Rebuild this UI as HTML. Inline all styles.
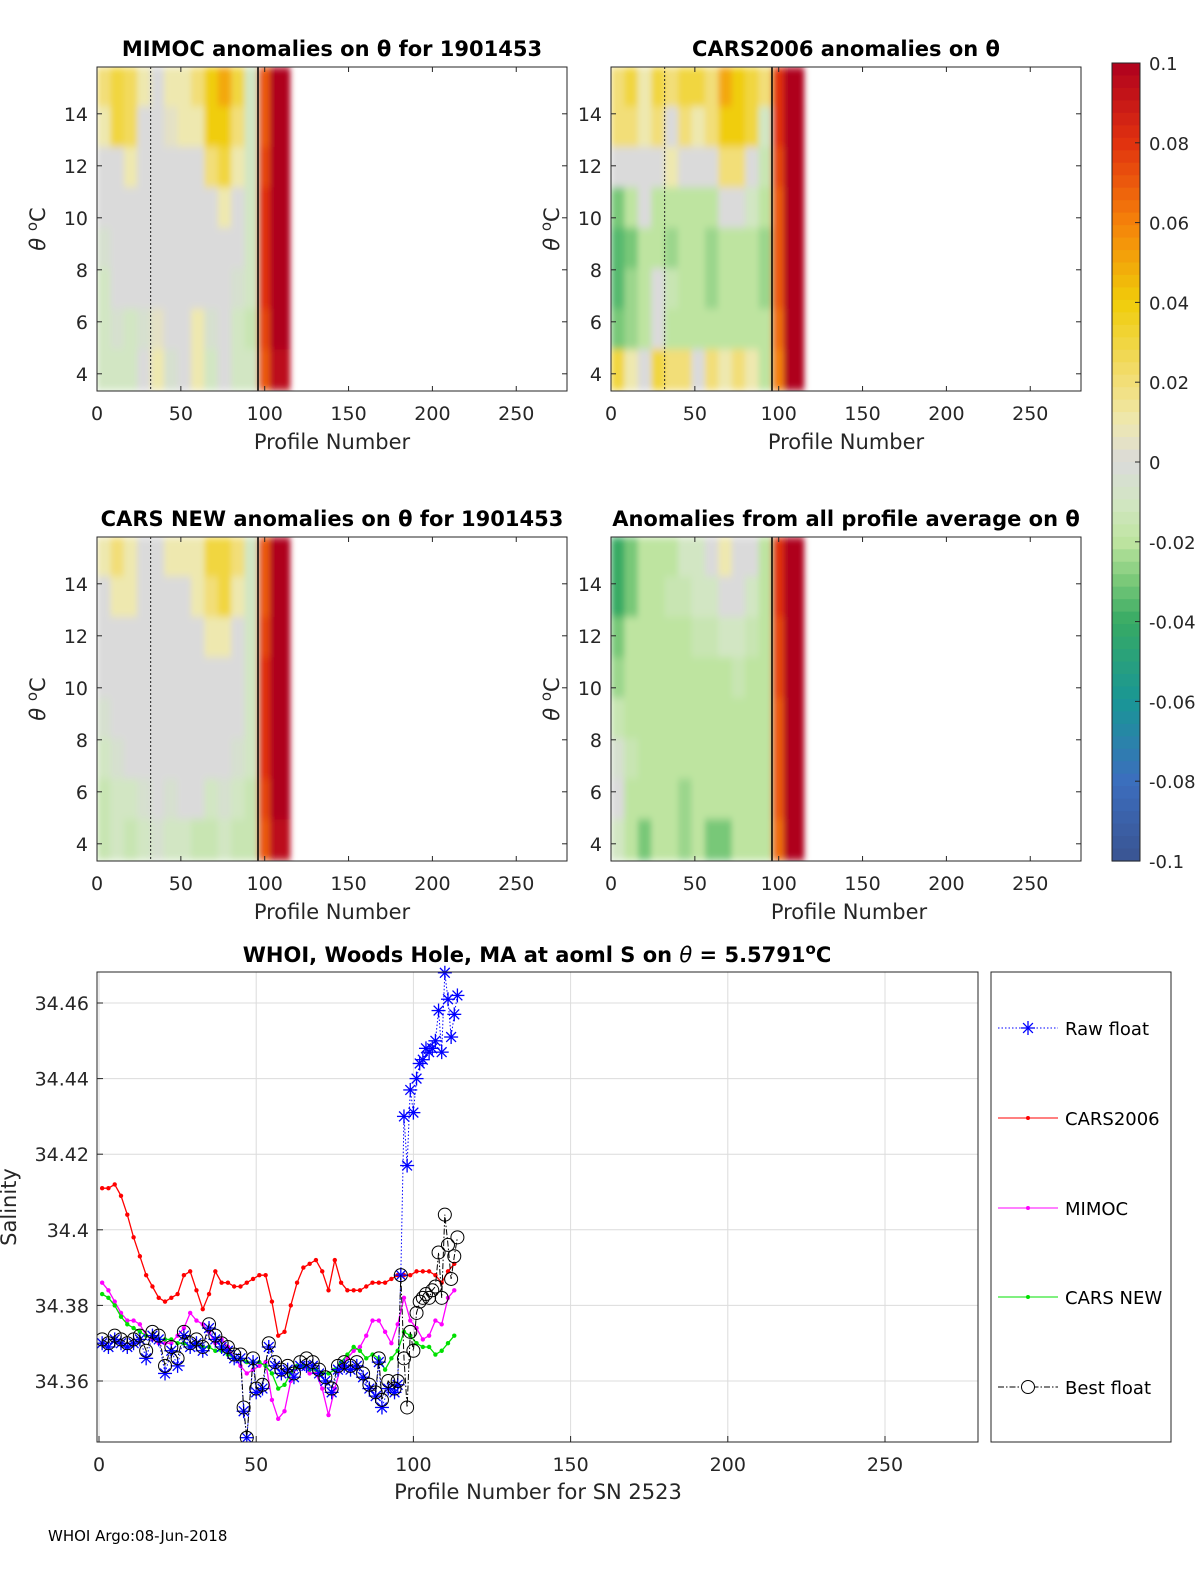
<!DOCTYPE html>
<html><head><meta charset="utf-8"><style>
body{margin:0;background:#fff}
svg{display:block;font-family:"DejaVu Sans","Liberation Sans",sans-serif}
</style></head><body>
<svg id="fig" width="1200" height="1575" viewBox="0 0 1200 1575" xmlns="http://www.w3.org/2000/svg">
<defs><filter id="blur" x="-5%" y="-5%" width="110%" height="110%"><feGaussianBlur stdDeviation="3 4"/></filter></defs>
<g id="panels"></g>
<g id="cbar"></g>
<g id="bottom"></g>
<text x="48" y="1541" font-size="15">WHOI Argo:08-Jun-2018</text>
</svg>
<script>
// ---------- heatmap data ----------
const colEdges = [0,8,16,24,32,40,48,56,64,72,80,88,96,103,115];
const thetaTop = 15.8, thetaBottom = 3.35, nRows = 8;
const mimocVals = [
 [0.02,0.03,0.025,0.01,0.0,0.01,0.01,0.02,0.04,0.05,0.03,-0.01,0.07,0.1],
 [0.01,0.03,0.025,0.0,0.0,0.005,0.01,0.01,0.04,0.04,0.02,-0.01,0.07,0.1],
 [0.0,0.0,0.01,0.0,0.0,0.0,0.0,0.0,0.02,0.03,0.01,-0.01,0.075,0.1],
 [0,0,0,0,0,0,0,0,0,0.01,0,-0.01,0.08,0.1],
 [-0.005,0,0,0,0,0,0,0,0,0,0,-0.01,0.08,0.1],
 [-0.01,0,0,0,0,0,0,0,0,0,-0.005,-0.01,0.08,0.1],
 [-0.01,-0.005,-0.01,-0.005,0.005,0,0,0.01,-0.005,0,-0.01,-0.015,0.075,0.1],
 [-0.01,-0.01,-0.01,0,0.01,-0.005,0,0.01,-0.01,0,-0.01,-0.01,0.07,0.095]];
const cars2006Vals = [
 [0.02,0.03,0.01,0.03,0.02,0.03,0.03,0.02,0.05,0.04,0.03,0.02,0.08,0.1],
 [0.02,0.02,0.01,0.02,0.0,0.02,0.01,0.02,0.04,0.04,0.03,-0.01,0.08,0.1],
 [0.0,0.0,0.0,0.0,0.01,0.0,0.0,0.0,0.02,0.02,0.0,-0.015,0.075,0.1],
 [-0.03,-0.02,0.0,-0.02,-0.02,-0.02,-0.02,-0.02,0,0,-0.01,-0.02,0.07,0.1],
 [-0.035,-0.03,-0.02,-0.02,-0.025,-0.02,-0.02,-0.025,-0.02,-0.02,-0.02,-0.025,0.07,0.1],
 [-0.035,-0.025,-0.02,0,-0.015,-0.02,-0.02,-0.025,-0.02,-0.02,-0.02,-0.025,0.07,0.1],
 [-0.03,-0.025,-0.02,0,-0.02,-0.02,-0.02,-0.02,-0.02,-0.02,-0.02,-0.02,0.065,0.1],
 [0.03,0.01,0,0.03,0.02,0.02,0.0,0.02,0.01,0.02,0.01,-0.02,0.06,0.1]];
const carsNewVals = [
 [0.01,0.02,0.01,0.0,0.0,0.01,0.01,0.01,0.03,0.03,0.02,-0.01,0.07,0.1],
 [0.0,0.01,0.01,0.0,0.0,0.0,0.0,0.01,0.02,0.03,0.01,-0.01,0.07,0.1],
 [0,0,0,0,0,0,0,0,0.01,0.01,0,-0.01,0.075,0.1],
 [0,0,0,0,0,0,0,0,0,0,0,-0.01,0.08,0.1],
 [-0.005,0,0,0,0,0,0,0,0,0,0,-0.01,0.08,0.1],
 [-0.01,-0.005,0,0,0,0,0,0,0,0,-0.005,-0.01,0.08,0.1],
 [-0.015,-0.01,-0.01,-0.005,0,-0.005,0,0,-0.01,-0.005,-0.01,-0.015,0.075,0.1],
 [-0.015,-0.01,-0.015,-0.01,-0.005,-0.01,-0.01,-0.015,-0.015,-0.01,-0.015,-0.015,0.07,0.095]];
const allAvgVals = [
 [-0.04,-0.03,-0.02,-0.02,-0.02,-0.01,-0.01,0,0.01,0.0,0,-0.02,0.08,0.1],
 [-0.04,-0.03,-0.02,-0.02,-0.015,-0.015,-0.01,-0.01,0,0,-0.01,-0.02,0.08,0.1],
 [-0.03,-0.02,-0.02,-0.02,-0.02,-0.02,-0.015,-0.015,-0.01,-0.01,-0.015,-0.02,0.075,0.1],
 [-0.025,-0.02,-0.02,-0.02,-0.02,-0.02,-0.02,-0.02,-0.02,-0.015,-0.02,-0.02,0.075,0.1],
 [-0.015,-0.02,-0.02,-0.02,-0.02,-0.02,-0.02,-0.02,-0.02,-0.02,-0.02,-0.02,0.07,0.1],
 [-0.005,-0.015,-0.02,-0.02,-0.02,-0.02,-0.02,-0.02,-0.02,-0.02,-0.02,-0.02,0.07,0.1],
 [0,-0.02,-0.02,-0.02,-0.02,-0.025,-0.02,-0.02,-0.02,-0.02,-0.02,-0.02,0.07,0.1],
 [-0.01,-0.02,-0.03,-0.02,-0.02,-0.025,-0.02,-0.03,-0.03,-0.02,-0.02,-0.02,0.065,0.1]];
const panelTitles = ["MIMOC anomalies on θ  for 1901453","CARS2006 anomalies on θ","CARS NEW anomalies on θ for 1901453","Anomalies from all profile average on θ"];
const xTicks = [0,50,100,150,200,250];
const thetaTicks = [4,6,8,10,12,14];
const cbarTicks = [0.1,0.08,0.06,0.04,0.02,0,-0.02,-0.04,-0.06,-0.08,-0.1];
const cbarLabels = ["0.1","0.08","0.06","0.04","0.02","0","-0.02","-0.04","-0.06","-0.08","-0.1"];

// ---------- salinity chart data ----------
const lineP = [1,3,5,7,9,11,13,15,17,19,21,23,25,27,29,31,33,35,37,39,41,43,45,47,49,51,53,55,57,59,61,63,65,67,69,71,73,75,77,79,81,83,85,87,89,91,93,95,97,99,101,103,105,107,109,111,113];
const cars2006S = [34.411,34.411,34.412,34.409,34.404,34.398,34.393,34.388,34.385,34.382,34.381,34.382,34.383,34.388,34.389,34.384,34.379,34.383,34.389,34.386,34.386,34.385,34.385,34.386,34.387,34.388,34.388,34.381,34.372,34.373,34.380,34.386,34.390,34.391,34.392,34.389,34.384,34.392,34.386,34.384,34.384,34.384,34.385,34.386,34.386,34.386,34.387,34.388,34.388,34.388,34.389,34.389,34.389,34.388,34.386,34.389,34.391];
const mimocS = [34.386,34.384,34.381,34.378,34.376,34.376,34.375,34.372,34.371,34.370,34.370,34.370,34.372,34.374,34.378,34.376,34.375,34.373,34.370,34.371,34.369,34.366,34.364,34.362,34.363,34.364,34.365,34.355,34.350,34.352,34.360,34.364,34.364,34.362,34.362,34.358,34.351,34.358,34.364,34.366,34.368,34.369,34.372,34.376,34.376,34.373,34.370,34.375,34.382,34.376,34.374,34.371,34.372,34.376,34.375,34.382,34.384];
const carsNewS = [34.383,34.382,34.380,34.377,34.375,34.374,34.373,34.372,34.372,34.371,34.371,34.371,34.370,34.370,34.369,34.370,34.369,34.369,34.368,34.368,34.367,34.366,34.366,34.365,34.365,34.365,34.364,34.362,34.358,34.359,34.362,34.364,34.364,34.363,34.363,34.362,34.362,34.363,34.365,34.367,34.369,34.368,34.366,34.367,34.366,34.363,34.366,34.368,34.373,34.372,34.370,34.369,34.369,34.367,34.368,34.370,34.372];
const floatP = [1,3,5,7,9,11,13,15,17,19,21,23,25,27,29,31,33,35,37,39,41,43,45,46,47,49,50,52,54,56,58,60,62,64,66,68,70,72,74,76,78,80,82,84,86,88,89,90,92,94,95,96,97,98,99,100,101,102,103,104,105,106,107,108,109,110,111,112,113,114];
const rawS = [34.370,34.369,34.371,34.370,34.369,34.370,34.371,34.366,34.372,34.371,34.362,34.368,34.364,34.372,34.369,34.370,34.368,34.374,34.371,34.369,34.368,34.366,34.366,34.352,34.345,34.365,34.357,34.358,34.369,34.364,34.362,34.363,34.361,34.364,34.364,34.364,34.362,34.360,34.357,34.363,34.364,34.363,34.364,34.361,34.358,34.356,34.365,34.353,34.358,34.357,34.359,34.388,34.430,34.417,34.437,34.431,34.440,34.444,34.445,34.448,34.447,34.448,34.450,34.458,34.447,34.468,34.461,34.451,34.457,34.462];
const bestS = [34.371,34.370,34.372,34.371,34.370,34.371,34.372,34.368,34.373,34.372,34.364,34.369,34.366,34.373,34.370,34.371,34.369,34.375,34.372,34.370,34.369,34.367,34.367,34.353,34.345,34.366,34.358,34.359,34.370,34.365,34.363,34.364,34.362,34.365,34.366,34.365,34.363,34.361,34.358,34.364,34.365,34.364,34.365,34.362,34.359,34.357,34.366,34.355,34.360,34.358,34.360,34.388,34.366,34.353,34.373,34.368,34.378,34.381,34.382,34.383,34.382,34.384,34.385,34.394,34.382,34.404,34.396,34.387,34.393,34.398];
const salTicks = [34.36,34.38,34.4,34.42,34.44,34.46];
const salTickLabels = ["34.36","34.38","34.4","34.42","34.44","34.46"];
const legendNames = ["Raw float","CARS2006","MIMOC","CARS NEW","Best float"];

const NS="http://www.w3.org/2000/svg";
function mk(tag, attrs, parent, txt){const e=document.createElementNS(NS,tag);for(const k in attrs)e.setAttribute(k,attrs[k]);if(txt!==undefined)e.textContent=txt;parent.appendChild(e);return e;}

const stops=[[-0.1,[58,84,145]],[-0.08,[60,110,190]],[-0.06,[25,150,150]],[-0.04,[55,170,100]],[-0.03,[120,200,120]],[-0.02,[190,228,160]],[-0.01,[210,230,195]],[0,[218,218,218]],[0.01,[238,232,175]],[0.02,[242,222,120]],[0.04,[240,205,10]],[0.06,[245,130,10]],[0.08,[225,50,15]],[0.1,[175,0,30]]];
function cmap(v){v=Math.max(-0.1,Math.min(0.1,v));for(let i=0;i<stops.length-1;i++){const a=stops[i],b=stops[i+1];if(v<=b[0]){const t=(v-a[0])/(b[0]-a[0]);const c=a[1].map((x,j)=>Math.round(x+(b[1][j]-x)*t));return `rgb(${c[0]},${c[1]},${c[2]})`;}}return 'rgb(175,0,30)';}

const panelsG=document.getElementById('panels');
const panelDefs=[[97,67,mimocVals,'mimoc'],[611,67,cars2006Vals,'cars2006'],[97,537,carsNewVals,'cars-new'],[611,537,allAvgVals,'all-average']];
panelDefs.forEach((pd,pi)=>{
  const [L,T,vals,nm]=pd; const W=470,H=324;
  const xs=p=>L+p*1.677; const ys=th=>T+(thetaTop-th)*26;
  const g=mk('g',{},panelsG);
  
  
  mk('clipPath',{id:'clip'+pi},g); mk('rect',{x:L,y:T,width:W,height:H},document.getElementById('clip'+pi));
  const hm=mk('g',{'clip-path':`url(#clip${pi})`},g);
  const inner=mk('g',{filter:'url(#blur)'},hm);
  const rowH=(thetaTop-thetaBottom)/nRows;
  vals.forEach((row,r)=>row.forEach((v,c)=>{
    const x0=xs(colEdges[c]),x1=xs(colEdges[c+1]);
    const th0=thetaTop-r*rowH, th1=th0-rowH;
    const el=mk('rect',{x:x0,y:ys(th0)-(r==0?0:1),width:x1-x0+0.5,height:ys(th1)-ys(th0)+1,fill:cmap(v)},inner);
    
    
  }));
  mk('line',{x1:xs(96),x2:xs(96),y1:T,y2:T+H,stroke:'#000','stroke-width':1.5},hm);
  if(pi!==3) mk('line',{x1:xs(32),x2:xs(32),y1:T,y2:T+H,stroke:'#222','stroke-width':1,'stroke-dasharray':'2 2'},hm);
  mk('rect',{x:L,y:T,width:W,height:H,fill:'none',stroke:'#262626','stroke-width':1},g);
  xTicks.forEach(t=>{mk('line',{x1:xs(t),x2:xs(t),y1:T+H,y2:T+H-5,stroke:'#262626'},g);mk('line',{x1:xs(t),x2:xs(t),y1:T,y2:T+5,stroke:'#262626'},g);
    mk('text',{x:xs(t),y:T+H+29,'font-size':19,'text-anchor':'middle',fill:'#262626'},g,String(t));});
  thetaTicks.forEach(t=>{mk('line',{x1:L,x2:L+5,y1:ys(t),y2:ys(t),stroke:'#262626'},g);mk('line',{x1:L+W,x2:L+W-5,y1:ys(t),y2:ys(t),stroke:'#262626'},g);
    mk('text',{x:L-9,y:ys(t)+7,'font-size':19,'text-anchor':'end',fill:'#262626'},g,String(t));});
  const xl=mk('text',{x:L+235+(pi==3?3:0),y:T+H+58,'font-size':21,'text-anchor':'middle',fill:'#262626'},g,'Profile Number');
  
  const yl=mk('text',{transform:`translate(${L-52},${T+162}) rotate(-90)`,'font-size':21,'text-anchor':'middle',fill:'#262626'},g);
  mk('tspan',{'font-style':'italic'},yl,'θ ');mk('tspan',{dy:-8,'font-size':15},yl,'o');mk('tspan',{dy:8},yl,'C');
  
  const tl=mk('text',{x:L+235,y:T-11,'font-size':21,'font-weight':'bold','text-anchor':'middle',fill:'#000'},g,panelTitles[pi]);
  
});

// colorbar
const cb=document.getElementById('cbar');
const cbT=63,cbB=861,cbL=1112,cbW=28;
const cys=v=>cbT+(0.1-v)/0.2*(cbB-cbT);
for(let i=0;i<64;i++){const v0=0.1-i*0.2/64;mk('rect',{x:cbL,y:cys(v0),width:cbW,height:(cbB-cbT)/64+0.6,fill:cmap(v0-0.0015)},cb);}
mk('rect',{x:cbL,y:cbT,width:cbW,height:cbB-cbT,fill:'none',stroke:'#262626'},cb);
cbarTicks.forEach((t,i)=>{mk('line',{x1:cbL+cbW-5,x2:cbL+cbW,y1:cys(t),y2:cys(t),stroke:'#262626'},cb);
  mk('text',{x:1149,y:cys(t)+7,'font-size':18,fill:'#262626'},cb,cbarLabels[i]);});

// bottom chart
const B=document.getElementById('bottom');
const bL=97,bR=978,bT=972,bBt=1442;
const bx=p=>99+p*3.144, by=s=>1381-(s-34.36)*3780;
mk('rect',{x:bL,y:bT,width:bR-bL,height:bBt-bT,fill:'#fff'},B);
xTicks.forEach(t=>mk('line',{x1:bx(t),x2:bx(t),y1:bT,y2:bBt,stroke:'#dcdcdc'},B));
salTicks.forEach(t=>mk('line',{x1:bL,x2:bR,y1:by(t),y2:by(t),stroke:'#dcdcdc'},B));
mk('clipPath',{id:'bclip'},B);mk('rect',{x:bL,y:bT-10,width:bR-bL,height:bBt-bT+10},document.getElementById('bclip'));
const plot=mk('g',{'clip-path':'url(#bclip)'},B);
function series(P,S,color,name,dash,width){
  const d=P.map((p,i)=>(i?'L':'M')+bx(p).toFixed(1)+','+by(S[i]).toFixed(1)).join('');
  const pl=mk('path',{d:d,fill:'none',stroke:color,'stroke-width':width,'stroke-dasharray':dash||'none'},plot);
  
  
}
series(lineP,cars2006S,'#ff0000','cars2006','',1.3);
lineP.forEach((p,i)=>mk('circle',{cx:bx(p),cy:by(cars2006S[i]),r:2.2,fill:'#ff0000'},plot));
series(lineP,mimocS,'#ff00ff','mimoc','',1.3);
lineP.forEach((p,i)=>mk('circle',{cx:bx(p),cy:by(mimocS[i]),r:2.2,fill:'#ff00ff'},plot));
series(lineP,carsNewS,'#00e000','cars-new','',1.3);
lineP.forEach((p,i)=>mk('circle',{cx:bx(p),cy:by(carsNewS[i]),r:2.2,fill:'#00e000'},plot));
series(floatP,rawS,'#0000ff','raw-float','1.5 2',1);
function star(cx,cy,g,s){[[s,0],[0,s],[s*0.7,s*0.7],[s*0.7,-s*0.7]].forEach(([a,b])=>mk('line',{x1:cx-a,y1:cy-b,x2:cx+a,y2:cy+b,stroke:'#0000ff','stroke-width':1.3},g));}
floatP.forEach((p,i)=>star(bx(p),by(rawS[i]),plot,7));
series(floatP,bestS,'#000','best-float','6 2 1.5 2',1);
floatP.forEach((p,i)=>{const c=mk('circle',{cx:bx(p),cy:by(bestS[i]),r:6.5,fill:'none',stroke:'#000','stroke-width':1},plot);
  
  });
mk('rect',{x:bL,y:bT,width:bR-bL,height:bBt-bT,fill:'none',stroke:'#262626'},B);
xTicks.forEach(t=>{mk('line',{x1:bx(t),x2:bx(t),y1:bBt,y2:bBt-6,stroke:'#262626'},B);
  mk('text',{x:bx(t),y:bBt+29,'font-size':19,'text-anchor':'middle',fill:'#262626'},B,String(t));});
salTicks.forEach((t,i)=>{mk('line',{x1:bL,x2:bL+6,y1:by(t),y2:by(t),stroke:'#262626'},B);
  mk('text',{x:bL-8,y:by(t)+7,'font-size':19,'text-anchor':'end',fill:'#262626'},B,salTickLabels[i]);});
const bxl=mk('text',{x:538,y:1499,'font-size':21,'text-anchor':'middle',fill:'#262626'},B,'Profile Number for SN 2523');

const byl=mk('text',{transform:'translate(16,1207) rotate(-90)','font-size':21,'text-anchor':'middle',fill:'#262626'},B,'Salinity');

const bt=mk('text',{x:537,y:962,'font-size':21,'font-weight':'bold','text-anchor':'middle'},B);
mk('tspan',{},bt,'WHOI, Woods Hole, MA at aoml S on ');mk('tspan',{'font-style':'italic','font-weight':'normal'},bt,'θ');mk('tspan',{},bt,' = 5.5791');mk('tspan',{dy:-8,'font-size':15},bt,'o');mk('tspan',{dy:8},bt,'C');

// legend
const lg=mk('g',{},B);


mk('rect',{x:991,y:972,width:180,height:470,fill:'#fff',stroke:'#262626'},lg);
const lgY=[1028,1118,1208,1297,1387];
legendNames.forEach((n,i)=>{
  const y=lgY[i];const e=mk('g',{},lg);
  
  
  const styles=[['#0000ff','1.5 2'],['#ff0000',''],['#ff00ff',''],['#00e000',''],['#000','6 2 1.5 2']][i];
  mk('line',{x1:998,x2:1058,y1:y,y2:y,stroke:styles[0],'stroke-dasharray':styles[1]||'none','stroke-width':1},e);
  if(i==0)star(1028,y,e,7); else if(i==4)mk('circle',{cx:1028,cy:y,r:6.5,fill:'#fff',stroke:'#000'},e); else mk('circle',{cx:1028,cy:y,r:2,fill:styles[0]},e);
  mk('text',{x:1065,y:y+7,'font-size':18,fill:'#000'},e,n);
});
</script>
</body></html>
